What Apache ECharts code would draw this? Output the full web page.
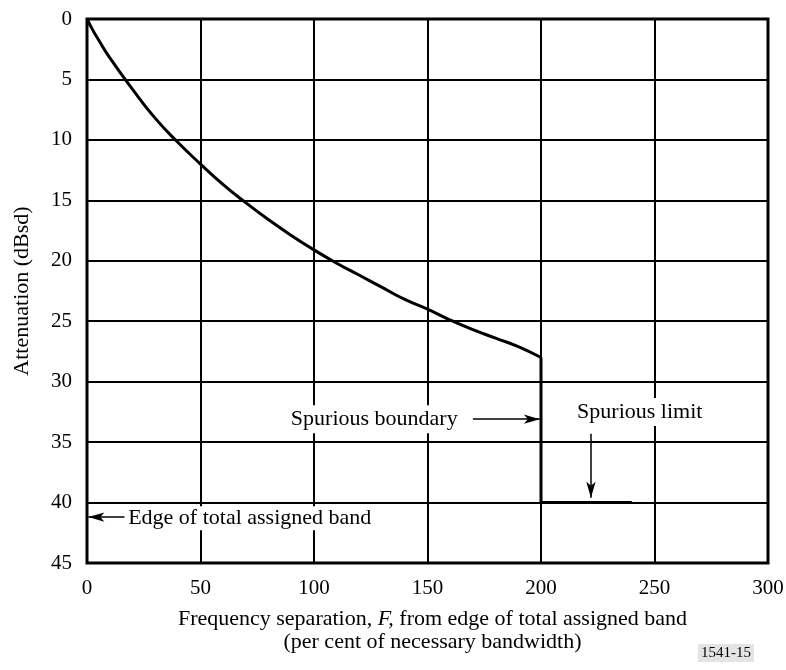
<!DOCTYPE html>
<html>
<head>
<meta charset="utf-8">
<script src="https://cdn.jsdelivr.net/npm/echarts@6/dist/echarts.min.js"></script>
<style>
  html, body { margin: 0; padding: 0; background: #fff; }
  #main { width: 786px; height: 670px; }
</style>
</head>
<body>
<div id="main"></div>
<script>
// 频率间隔 F (% of necessary bandwidth) 及衰减 (dBsd)
var freq = [0, 2.5, 5, 10, 20, 30, 40, 50, 60, 70, 80, 90, 100, 110, 120, 130, 140, 150, 160, 170, 180, 190, 200];
var atten = [0, 0.9, 1.7, 3.2, 5.8, 8.2, 10.2, 12.0, 13.7, 15.2, 16.6, 17.9, 19.1, 20.2, 21.2, 22.2, 23.2, 24.0, 24.9, 25.7, 26.4, 27.1, 28.0];
// spurious step
var stepF = [200, 200, 240];
var stepA = [28.0, 40, 40];
var xTicks = [0, 50, 100, 150, 200, 250, 300];
var yTicks = [0, 5, 10, 15, 20, 25, 30, 35, 40, 45];

var serif = 'Liberation Serif';

function pairs(a, b) {
    var out = [];
    for (var i = 0; i < a.length; i++) out.push([a[i], b[i]]);
    return out;
}

var arrowLine = {
    silent: true,
    symbol: ['none', 'arrow'],
    symbolSize: [7, 16],
    lineStyle: { color: '#000', width: 1.5, type: 'solid', opacity: 1 },
    label: { show: false },
    emphasis: { disabled: true }
};

var myChart = echarts.init(document.getElementById('main'));
var option = {
    animation: false,
    backgroundColor: '#fff',
    grid: {
        left: 87, top: 19, width: 681, height: 544,
        outerBoundsMode: 'none',
        containLabel: false,
        show: true, borderColor: '#000', borderWidth: 3
    },
    xAxis: {
        type: 'value',
        min: xTicks[0], max: xTicks[xTicks.length - 1], interval: 50,
        axisLine: { show: false },
        axisTick: { show: false },
        splitLine: { lineStyle: { color: '#000', width: 2 } },
        axisLabel: { color: '#000', fontSize: 21, fontFamily: serif, margin: 15 },
        name: '{n|Frequency separation, }{i|F,}{n| from edge of total assigned band}\n{n|(per cent of necessary bandwidth)}',
        nameLocation: 'middle',
        nameGap: 45,
        nameTextStyle: {
            align: 'center',
            padding: [0, 0, 0, 10],
            rich: {
                n: { fontSize: 22, fontFamily: serif, color: '#000', lineHeight: 23 },
                i: { fontSize: 22, fontFamily: serif, fontStyle: 'italic', color: '#000', lineHeight: 23 }
            }
        }
    },
    yAxis: {
        type: 'value',
        inverse: true,
        min: yTicks[0], max: yTicks[yTicks.length - 1], interval: 5,
        axisLine: { show: false },
        axisTick: { show: false },
        splitLine: { lineStyle: { color: '#000', width: 2 } },
        axisLabel: { color: '#000', fontSize: 21, fontFamily: serif, margin: 15 },
        name: 'Attenuation (dBsd)',
        nameLocation: 'middle',
        nameGap: 54,
        nameTextStyle: { color: '#000', fontSize: 22, fontFamily: serif }
    },
    series: [
        {
            name: 'mask',
            type: 'line',
            data: pairs(freq, atten),
            smooth: true,
            showSymbol: false,
            lineStyle: { color: '#000', width: 3 }
        },
        {
            name: 'spurious',
            type: 'line',
            data: pairs(stepF, stepA),
            showSymbol: false,
            lineStyle: { color: '#000', width: 3 }
        },
        {
            // 注释文字
            name: 'notes',
            type: 'scatter',
            symbolSize: 0,
            silent: true,
            itemStyle: { opacity: 1 },
            data: [
                { value: [165.5, 33.1], label: { position: 'left', distance: 2, formatter: 'Spurious boundary' } },
                { value: [243.5, 32.5], label: { position: 'inside', formatter: 'Spurious limit' } },
                { value: [16.8, 41.3], label: { position: 'right', distance: 0, padding: [0, 3, 2, 3], formatter: 'Edge of total assigned band' } }
            ],
            label: {
                show: true,
                color: '#000',
                fontSize: 22,
                fontFamily: serif,
                backgroundColor: '#fff',
                padding: [3, 3, 3, 3]
            },
            markLine: Object.assign({}, arrowLine, {
                data: [
                    [{ coord: [170, 33.1] }, { coord: [199.5, 33.1] }],
                    [{ coord: [222, 34.3] }, { coord: [222, 39.6] }],
                    [{ coord: [16.5, 41.2] }, { coord: [0.6, 41.2] }]
                ]
            })
        }
    ],
    graphic: [{
        type: 'text',
        right: 32,
        bottom: 8,
        style: {
            text: '1541-15',
            fontSize: 15,
            fontFamily: serif,
            fill: '#000',
            backgroundColor: '#e4e4e4',
            padding: [2, 3, 1, 3]
        }
    }]
};
myChart.setOption(option);
</script>
</body>
</html>
